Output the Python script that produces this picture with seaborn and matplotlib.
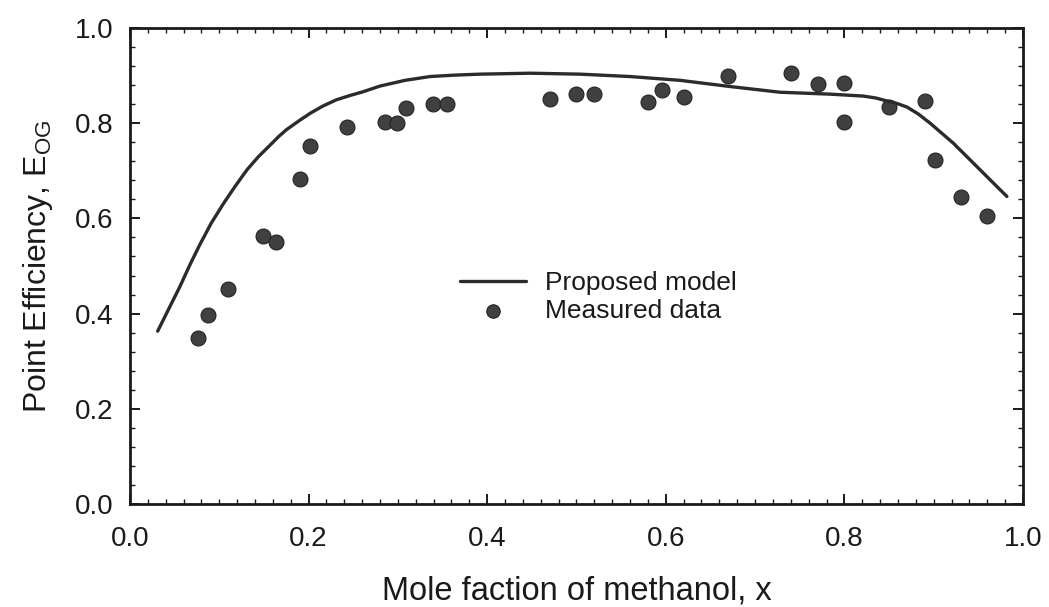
import numpy as np
import pandas as pd
import matplotlib
matplotlib.use("Agg")
import matplotlib.pyplot as plt
from matplotlib.ticker import MultipleLocator
import seaborn as sns

# Measured point efficiencies
x_measured = [0.076, 0.087, 0.110, 0.149, 0.163, 0.190, 0.202, 0.243,
              0.286, 0.299, 0.309, 0.339, 0.355, 0.470, 0.500, 0.520,
              0.580, 0.596, 0.620, 0.670, 0.740, 0.770, 0.800, 0.800,
              0.850, 0.890, 0.901, 0.931, 0.960]
e_measured = [0.349, 0.398, 0.451, 0.562, 0.550, 0.682, 0.752, 0.793,
              0.802, 0.801, 0.831, 0.840, 0.840, 0.850, 0.861, 0.861,
              0.844, 0.870, 0.854, 0.899, 0.905, 0.882, 0.885, 0.803,
              0.833, 0.847, 0.723, 0.644, 0.604]

# Proposed model curve
x_model = [0.031, 0.044, 0.056, 0.067, 0.078, 0.091, 0.105, 0.118,
           0.131, 0.144, 0.157, 0.166, 0.175, 0.190, 0.202, 0.216,
           0.231, 0.246, 0.261, 0.280, 0.308, 0.336, 0.364, 0.392,
           0.420, 0.448, 0.476, 0.504, 0.560, 0.616, 0.672, 0.728,
           0.784, 0.821, 0.835, 0.847, 0.858, 0.870, 0.883, 0.896,
           0.922, 0.952, 0.982]
e_model = [0.363, 0.412, 0.457, 0.502, 0.544, 0.590, 0.632, 0.668,
           0.702, 0.730, 0.754, 0.771, 0.786, 0.806, 0.821, 0.836,
           0.849, 0.858, 0.866, 0.878, 0.890, 0.898, 0.901, 0.903,
           0.904, 0.905, 0.904, 0.903, 0.898, 0.890, 0.877, 0.865,
           0.861, 0.857, 0.853, 0.847, 0.842, 0.834, 0.819, 0.800,
           0.758, 0.702, 0.646]

x_ticks = [0.0, 0.2, 0.4, 0.6, 0.8, 1.0]
y_ticks = [0.0, 0.2, 0.4, 0.6, 0.8, 1.0]

sns.set_theme(style="ticks")
plt.rcParams["font.family"] = ["Liberation Sans", "DejaVu Sans"]
plt.rcParams["mathtext.fontset"] = "custom"
plt.rcParams["mathtext.rm"] = "Liberation Sans"
plt.rcParams["mathtext.it"] = "Liberation Sans:italic"
plt.rcParams["mathtext.default"] = "rm"

model_df = pd.DataFrame({"x": x_model, "E": e_model})
meas_df = pd.DataFrame({"x": x_measured, "E": e_measured})

fig = plt.figure(figsize=(10.49, 6.07), dpi=100)
ax = fig.add_axes([0.1239, 0.1697, 0.8513, 0.7842])

sns.lineplot(data=model_df, x="x", y="E", ax=ax, color="#2b2b2b",
             linewidth=2.4, sort=False, label="Proposed model")
sns.scatterplot(data=meas_df, x="x", y="E", ax=ax, color="#404040",
                s=115, edgecolor="#222222", linewidth=0.8,
                label="Measured data")

ax.set_xlim(0, 1.0)
ax.set_ylim(0, 1.0)
ax.set_xticks(x_ticks)
ax.set_yticks(y_ticks)
ax.set_xticklabels([f"{v:.1f}" for v in x_ticks])
ax.set_yticklabels([f"{v:.1f}" for v in y_ticks])
ax.xaxis.set_minor_locator(MultipleLocator(0.02))
ax.yaxis.set_minor_locator(MultipleLocator(0.04))
ax.tick_params(which="both", direction="in", top=True, right=True,
               color="#1a1a1a")
ax.tick_params(which="major", length=7, width=1.4, labelsize=20,
               labelcolor="#1a1a1a")
ax.tick_params(axis="x", which="major", pad=16)
ax.tick_params(axis="y", which="major", pad=12)
ax.tick_params(which="minor", length=3.5, width=1.0)
for side in ax.spines.values():
    side.set_linewidth(2.0)
    side.set_color("#1a1a1a")

ax.set_xlabel("Mole faction of methanol, x", fontsize=23.5, labelpad=17,
              color="#1a1a1a")
ax.set_ylabel("Point Efficiency, $E_{OG}$", fontsize=23, labelpad=14,
              color="#1a1a1a")

leg = ax.legend(loc="upper left", bbox_to_anchor=(0.37, 0.49),
                frameon=False, fontsize=19, handlelength=2.5,
                handletextpad=0.7, labelspacing=0.15, borderpad=0,
                borderaxespad=0, markerscale=0.9)
for t in leg.get_texts():
    t.set_color("#1a1a1a")

fig.savefig("out.png", dpi=100, facecolor="white")
